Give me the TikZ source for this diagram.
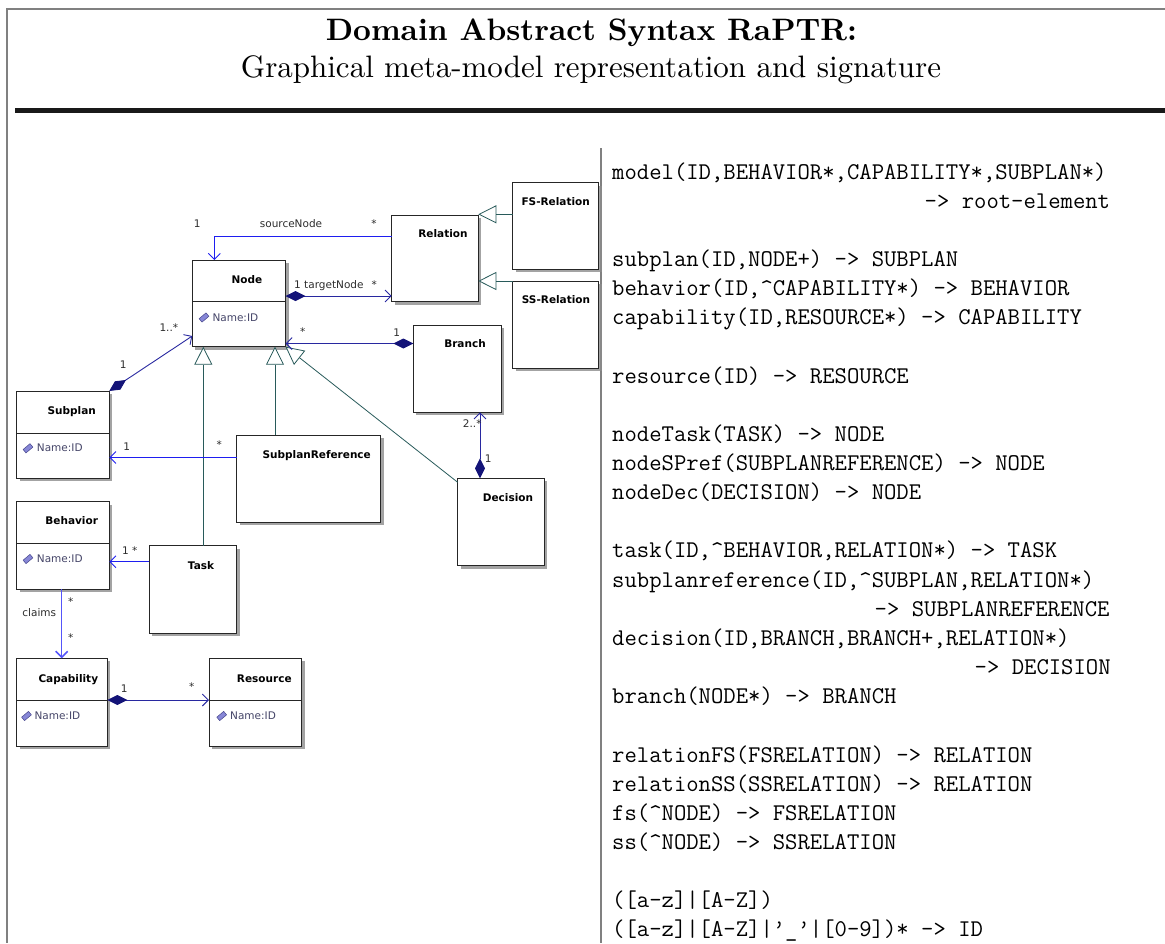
\documentclass[tikz,border=0pt]{standalone}
\usepackage{fontspec}
\newfontfamily\umlfont{DejaVu Sans}
\newfontfamily\headfont{lmroman10-regular.otf}[BoldFont=lmroman10-bold.otf]
\usetikzlibrary{arrows.meta,shadows}

\definecolor{framegray}{RGB}{128,128,128}
\definecolor{rulecol}{RGB}{25,25,25}
\definecolor{assocblue}{RGB}{30,30,240}
\definecolor{lightblue}{RGB}{85,85,250}
\definecolor{navy}{RGB}{20,20,120}
\definecolor{compblue}{RGB}{40,40,160}
\definecolor{genteal}{RGB}{40,90,90}
\definecolor{attrcol}{RGB}{70,70,105}
\definecolor{iconfill}{RGB}{135,135,215}
\definecolor{icondraw}{RGB}{70,70,140}
\definecolor{labelcol}{RGB}{45,45,45}

\newcommand\sigfont{\fontsize{24}{28}\selectfont\ttfamily}

\begin{document}
\begin{tikzpicture}[x=1pt,y=-1pt,
  frameline/.style={draw=framegray, line width=2pt},
  cls/.style={draw=black!85, line width=1pt, fill=white, inner sep=0pt, outer sep=0pt,
    drop shadow={shadow xshift=3pt, shadow yshift=-3pt, fill=black!45, opacity=0.8}},
  clsname/.style={font=\umlfont\bfseries\fontsize{10.5}{12}\selectfont, anchor=base, inner sep=0pt},
  attr/.style={font=\umlfont\fontsize{10.5}{12}\selectfont, text=attrcol, anchor=base west, inner sep=0pt},
  icon/.style={draw=icondraw, fill=iconfill, line width=0.5pt, minimum width=9pt,
    minimum height=4.5pt, inner sep=0pt, rotate=40},
  sepline/.style={draw=black!85, line width=1pt},
  mult/.style={font=\umlfont\fontsize{10.5}{12}\selectfont, text=labelcol, anchor=base, inner sep=0pt},
  assoc/.style={draw=assocblue, line width=0.9pt, -{Straight Barb[length=6pt,width=12pt]}},
  comp/.style={draw=compblue, line width=0.9pt,
    {Diamond[length=20pt,width=10pt,fill=navy,color=navy]}-{Straight Barb[length=6pt,width=12pt]}},
  gen/.style={draw=genteal, line width=0.8pt, -{Triangle[open,length=18pt,width=18pt,fill=white]}},
  sig/.style={font=\sigfont, anchor=base west, inner sep=0pt}
]
\useasboundingbox (0,0) rectangle (1165,943);

% ---- page frame and header ----
\draw[frameline] (7,9) -- (1165,9);
\draw[frameline] (7,8) -- (7,943);
\fill[rulecol] (15,108) rectangle (1165,113);
\draw[draw=framegray, line width=1.5pt] (601,148) -- (601,943);

\node[font=\headfont\fontsize{31}{36}\selectfont\bfseries, anchor=base, inner sep=0pt] (title)
  at (591.5,40) {Domain Abstract Syntax RaPTR:};
\node[font=\headfont\fontsize{31}{36}\selectfont, anchor=base, inner sep=0pt] (subtitle)
  at (591,77) {Graphical meta-model representation and signature};

% ---- class boxes ----
\node[cls, minimum width=93.2pt, minimum height=86.7pt] (node)     at (238.9,303.35) {};
\node[cls, minimum width=86.6pt, minimum height=86.7pt] (relation) at (435,258.35) {};
\node[cls, minimum width=85.8pt, minimum height=86.3pt] (fs)       at (555.6,225.85) {};
\node[cls, minimum width=86pt,   minimum height=87pt]   (ss)       at (555.7,324.5) {};
\node[cls, minimum width=87.7pt, minimum height=87.3pt] (branch)   at (457.15,368.65) {};
\node[cls, minimum width=86.3pt, minimum height=87.4pt] (decision) at (500.85,522) {};
\node[cls, minimum width=144pt,  minimum height=87.3pt] (spref)    at (308.7,478.65) {};
\node[cls, minimum width=87.7pt, minimum height=87.6pt] (task)     at (192.85,589.5) {};
\node[cls, minimum width=92.6pt, minimum height=87.3pt] (subplan)  at (63,434.65) {};
\node[cls, minimum width=92.6pt, minimum height=87.3pt] (behavior) at (63,545.35) {};
\node[cls, minimum width=90.6pt, minimum height=87.7pt] (capab)    at (62,702.15) {};
\node[cls, minimum width=92.7pt, minimum height=87.7pt] (resource) at (255.35,702.15) {};

% compartment separators
\draw[sepline] ([yshift=1.65pt]node.west) -- ([yshift=1.65pt]node.east);
\draw[sepline] ([yshift=1.35pt]subplan.west) -- ([yshift=1.35pt]subplan.east);
\draw[sepline] ([yshift=2.05pt]behavior.west) -- ([yshift=2.05pt]behavior.east);
\draw[sepline] ([yshift=2.15pt]capab.west) -- ([yshift=2.15pt]capab.east);
\draw[sepline] ([yshift=2.15pt]resource.west) -- ([yshift=2.15pt]resource.east);

% class names
\node[clsname] (nodeT)     at (247,283.8) {Node};
\node[clsname] (relationT) at (443,237.8) {Relation};
\node[clsname] (fsT)       at (555.7,205.8) {FS-Relation};
\node[clsname] (ssT)       at (556,303.8) {SS-Relation};
\node[clsname] (branchT)   at (465,347.8) {Branch};
\node[clsname] (decisionT) at (508,501.8) {Decision};
\node[clsname] (sprefT)    at (316.7,458.5) {SubplanReference};
\node[clsname] (taskT)     at (201,569.5) {Task};
\node[clsname] (subplanT)  at (71.7,414.5) {Subplan};
\node[clsname] (behaviorT) at (71.7,524.8) {Behavior};
\node[clsname] (capabT)    at (68.3,682.1) {Capability};
\node[clsname] (resourceT) at (264.3,682.1) {Resource};

% attributes
\node[icon] (nodeI) at (204,317.5) {};
\node[attr] (nodeA) at (212.3,321.3) {Name:ID};
\node[icon] (subplanI) at (28,448.3) {};
\node[attr] (subplanA) at (36.7,451.9) {Name:ID};
\node[icon] (behaviorI) at (28,559) {};
\node[attr] (behaviorA) at (36.7,562.6) {Name:ID};
\node[icon] (capabI) at (26.5,716) {};
\node[attr] (capabA) at (34.3,719.6) {Name:ID};
\node[icon] (resourceI) at (221.7,716) {};
\node[attr] (resourceA) at (230,719.6) {Name:ID};

% ---- generalizations ----
\coordinate (fsG) at ([yshift=11.55pt]fs.west);
\draw[gen] (fsG) -- (fsG -| relation.east);
\draw[gen] (ss.north west) -- (ss.north west -| relation.east);
\coordinate (taskG) at ([xshift=10.45pt]task.north);
\draw[gen] (taskG) -- (taskG |- node.south);
\coordinate (sprefG) at ([xshift=-33.7pt]spref.north);
\draw[gen] (sprefG) -- (sprefG |- node.south);
\draw[gen] ([yshift=-4pt]decision.north west) -- (node.south east);

% ---- associations ----
\draw[assoc] ([yshift=21.65pt]relation.west) -| ([xshift=-24.6pt]node.north);
\draw[comp] ([yshift=7.35pt]node.east) -- ([yshift=-37.65pt]relation.west);
\draw[comp] ([yshift=25.15pt]branch.west) -- ([yshift=3.2pt]node.south east);
\draw[comp] (subplan.north east) -- ([yshift=10.7pt]node.south west);
\coordinate (sprefA) at ([yshift=21.15pt]spref.west);
\draw[assoc] (sprefA) -- (sprefA -| subplan.east);
\coordinate (taskA) at ([yshift=27.8pt]task.west);
\draw[assoc] (taskA) -- (taskA -| behavior.east);
\coordinate (behA) at ([xshift=-1.3pt]behavior.south);
\draw[assoc, draw=lightblue, line width=1.5pt] (behA) -- (behA |- capab.north);
\coordinate (capA) at ([yshift=2.15pt]capab.east);
\draw[comp] (capA) -- (capA -| resource.west);
\coordinate (decA) at ([xshift=-20.85pt]decision.north);
\draw[comp] (decA) -- (decA |- branch.south);

% ---- multiplicities and role names ----
\node[mult] (m1) at (197.3,227.6) {1};
\node[mult] (m2) at (291,227.6) {sourceNode};
\node[mult] (m3) at (374,227.6) {*};
\node[mult, anchor=base west] (m4) at (294,288) {1 targetNode};
\node[mult] (m5) at (374.3,288) {*};
\node[mult] (m6) at (302.7,335.5) {*};
\node[mult] (m7) at (396.7,336.5) {1};
\node[mult] (m8) at (123.3,368.3) {1};
\node[mult, anchor=base west] (m9) at (159.3,331.7) {1..*};
\node[mult] (m10) at (126.7,450) {1};
\node[mult] (m11) at (219.3,448) {*};
\node[mult, anchor=base west] (m12) at (122,554) {1 *};
\node[mult] (m13) at (70.7,605) {*};
\node[mult] (m14) at (39.3,616) {claims};
\node[mult] (m15) at (70.7,641) {*};
\node[mult] (m16) at (124.3,692.3) {1};
\node[mult] (m17) at (191.7,690) {*};
\node[mult, anchor=base west] (m18) at (462.7,427.7) {2..*};
\node[mult] (m19) at (488.3,462.7) {1};

% ---- signature ----
\node[sig] (s0)  at ({612},{179+29.15*0})  {model(ID,BEHAVIOR*,CAPABILITY*,SUBPLAN*)};
\node[sig] (s1)  at ({612+12.5*25},{179+29.15*1}) {-> root-element};
\node[sig] (s3)  at ({612},{179+29.15*3})  {subplan(ID,NODE+) -> SUBPLAN};
\node[sig] (s4)  at ({612},{179+29.15*4})  {behavior(ID,\^{}CAPABILITY*) -> BEHAVIOR};
\node[sig] (s5)  at ({612},{179+29.15*5})  {capability(ID,RESOURCE*) -> CAPABILITY};
\node[sig] (s7)  at ({612},{179+29.15*7})  {resource(ID) -> RESOURCE};
\node[sig] (s9)  at ({612},{179+29.15*9})  {nodeTask(TASK) -> NODE};
\node[sig] (s10) at ({612},{179+29.15*10}) {nodeSPref(SUBPLANREFERENCE) -> NODE};
\node[sig] (s11) at ({612},{179+29.15*11}) {nodeDec(DECISION) -> NODE};
\node[sig] (s13) at ({612},{179+29.15*13}) {task(ID,\^{}BEHAVIOR,RELATION*) -> TASK};
\node[sig] (s14) at ({612},{179+29.15*14}) {subplanreference(ID,\^{}SUBPLAN,RELATION*)};
\node[sig] (s15) at ({612+12.5*21},{179+29.15*15}) {-> SUBPLANREFERENCE};
\node[sig] (s16) at ({612},{179+29.15*16}) {decision(ID,BRANCH,BRANCH+,RELATION*)};
\node[sig] (s17) at ({612+12.5*29},{179+29.15*17}) {-> DECISION};
\node[sig] (s18) at ({612},{179+29.15*18}) {branch(NODE*) -> BRANCH};
\node[sig] (s20) at ({612},{179+29.15*20}) {relationFS(FSRELATION) -> RELATION};
\node[sig] (s21) at ({612},{179+29.15*21}) {relationSS(SSRELATION) -> RELATION};
\node[sig] (s22) at ({612},{179+29.15*22}) {fs(\^{}NODE) -> FSRELATION};
\node[sig] (s23) at ({612},{179+29.15*23}) {ss(\^{}NODE) -> SSRELATION};
\node[sig] (s25) at ({612},{179+29.15*25}) {([a-z]|[A-Z])};
\node[sig] (s26) at ({612},{179+29.15*26}) {([a-z]|[A-Z]|’\_’|[0-9])* -> ID};
\end{tikzpicture}
\end{document}
